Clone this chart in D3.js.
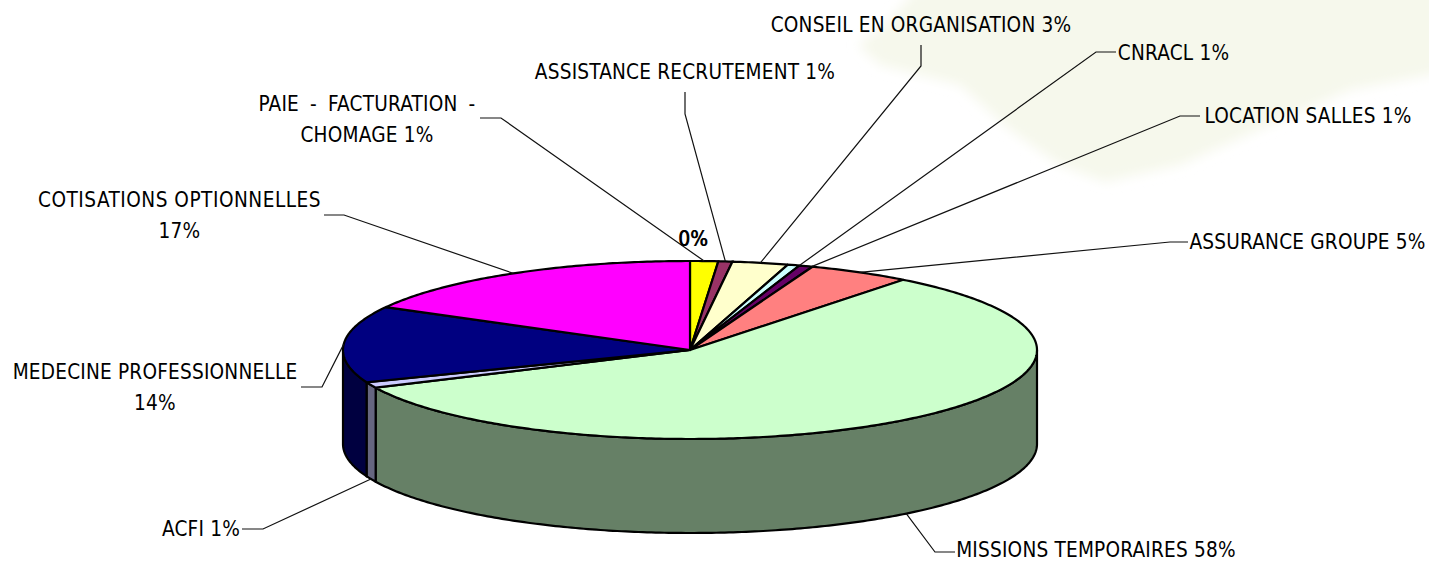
<!DOCTYPE html>
<html><head><meta charset="utf-8">
<script src="https://cdn.jsdelivr.net/npm/d3@7"></script>
<style>html,body{margin:0;padding:0;background:#fff;overflow:hidden}svg{display:block}</style>
</head><body><svg id="c" width="1429" height="562"></svg>
<script>
// Data
const categories = ["PAIE - FACTURATION - CHOMAGE","ASSISTANCE RECRUTEMENT","CONSEIL EN ORGANISATION","CNRACL","LOCATION SALLES","ASSURANCE GROUPE","MISSIONS TEMPORAIRES","ACFI","MEDECINE PROFESSIONNELLE","COTISATIONS OPTIONNELLES"];
const shares = [1.3,0.65,2.6,0.55,0.64,4.8,57.5,1.06,13.9,17.0];
const shareLabels = ["1%","1%","3%","1%","1%","5%","58%","1%","14%","17%"];
const topColors = ["#ffff00","#993366","#ffffcc","#ccffff","#660066","#ff8080","#ccffcc","#ccccff","#000080","#ff00ff"];
const wallColors = ["#808000","#4d1a33","#808066","#668080","#330033","#804040","#668066","#666680","#000040","#800080"];

// Layout (label lines, text centre, first baseline, leader start and elbow)
const labelLayout = [
 {lines:["PAIE - FACTURATION -","CHOMAGE 1%"],cx:367,by:110,from:[480,118],elbow:[501,118],ws:5},
 {lines:["ASSISTANCE RECRUTEMENT 1%"],cx:685,by:78,from:[685,92],elbow:[685,114]},
 {lines:["CONSEIL EN ORGANISATION 3%"],cx:921,by:31,from:[921,45],elbow:[921,66]},
 {lines:["CNRACL 1%"],cx:1173.5,by:59,from:[1116,52],elbow:[1096,52],nudge:1},
 {lines:["LOCATION SALLES 1%"],cx:1308,by:122,from:[1200,116],elbow:[1180,116],nudge:1},
 {lines:["ASSURANCE GROUPE 5%"],cx:1307.5,by:248,from:[1188,242],elbow:[1170,242]},
 {lines:["MISSIONS TEMPORAIRES 58%"],cx:1096,by:556,from:[955,552],elbow:[935,552]},
 {lines:["ACFI 1%"],cx:201,by:535,from:[242,529],elbow:[263,529]},
 {lines:["MEDECINE PROFESSIONNELLE","14%"],cx:155,by:378,from:[301,387],elbow:[322,387]},
 {lines:["COTISATIONS OPTIONNELLES","17%"],cx:179.5,by:206,from:[324,215],elbow:[344,215],ls:0.5}
];
const cx=690, cy=350, rx=347, ry=89, depth=94;
const FONT='"DejaVu Sans Condensed","DejaVu Sans",sans-serif', FS=20.6;

const svg=d3.select("#c");
const defs=svg.append("defs");
defs.append("filter").attr("id","blur").attr("x","-10%").attr("y","-20%").attr("width","120%").attr("height","140%")
  .append("feGaussianBlur").attr("stdDeviation",6);
svg.append("polygon")
  .attr("points",[[925,-20],[890,20],[858,45],[880,65],[960,85],[1010,130],[1060,165],[1105,182],[1180,165],[1270,125],[1350,90],[1445,72],[1445,-20]].join(" "))
  .attr("fill","#f6f8ec").attr("filter","url(#blur)");

const X=d3.scaleLinear().domain([-1,1]).range([cx-rx,cx+rx]);
const Y=d3.scaleLinear().domain([-1,1]).range([cy-ry,cy+ry]);
const pt=(a,dz=0)=>[X(Math.sin(a)),Y(-Math.cos(a))+dz];
const arcPts=(a0,a1,dz=0)=>{const n=Math.max(2,Math.ceil(Math.abs(a1-a0)*80));return d3.range(n+1).map(i=>pt(a0+(a1-a0)*i/n,dz));};
const line=d3.line();
const arcs=d3.pie().value(d=>d).sort(null).startAngle(0).endAngle(2*Math.PI)(shares);

// outer walls (visible for the front half only)
const gWall=svg.append("g");
arcs.forEach((d,i)=>{
  const a0=Math.max(d.startAngle,Math.PI/2), a1=Math.min(d.endAngle,3*Math.PI/2);
  if(a1<=a0) return;
  gWall.append("path").attr("d",line([...arcPts(a0,a1),...arcPts(a1,a0,depth)])+"Z")
    .attr("fill",wallColors[i]).attr("stroke","#000").attr("stroke-width",2.2).attr("stroke-linejoin","round");
});
// top face
const gTop=svg.append("g");
arcs.forEach((d,i)=>{
  gTop.append("path").attr("d",line([[cx,cy],...arcPts(d.startAngle,d.endAngle)])+"Z")
    .attr("fill",topColors[i]).attr("stroke","#000").attr("stroke-width",2.2).attr("stroke-linejoin","miter").attr("stroke-miterlimit",2);
});
// leaders
const gLead=svg.append("g");
arcs.forEach((d,i)=>{
  const l=labelLayout[i];
  const mid=(d.startAngle+d.endAngle)/2+(l.nudge||0)*Math.PI/180;
  const front=Math.cos(mid)<0;
  const anchor=pt(mid,front?depth:0);
  gLead.append("path").attr("d",line([l.from,l.elbow,anchor])).attr("fill","none").attr("stroke","#111").attr("stroke-width",1.2);
});
// labels
const gText=svg.append("g").attr("font-family",FONT).attr("font-size",FS).attr("letter-spacing",0.2).attr("fill","#000").attr("text-anchor","middle");
labelLayout.forEach(l=>{
  l.lines.forEach((t,j)=>{
    const el=gText.append("text").attr("x",l.cx).attr("y",l.by+1+j*31).text(t);
    if(l.ws&&j===0) el.attr("word-spacing",l.ws);
    if(l.ls&&j===0) el.attr("letter-spacing",l.ls);
  });
});
// the two overlapping zero labels above the yellow slice
[693,693.7].forEach(x=>gText.append("text").attr("x",x).attr("y",246).text("0%"));
</script></body></html>
